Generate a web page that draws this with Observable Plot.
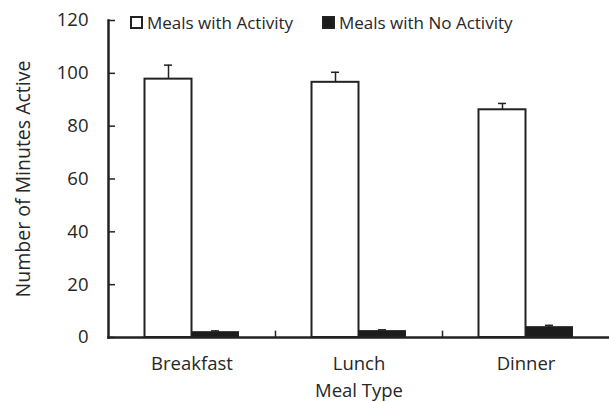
<!DOCTYPE html>
<html><head><meta charset="utf-8">
<script src="https://cdn.jsdelivr.net/npm/d3@7"></script>
<script src="https://cdn.jsdelivr.net/npm/@observablehq/plot@0.6"></script>
<style>
body{margin:0;background:#fff;}
#wrap{position:relative;width:609px;height:402px;font-family:"Open Sans",sans-serif;color:#262626;}
.leg{position:absolute;top:11px;font-size:17px;display:flex;align-items:center;white-space:nowrap;}
.sw{display:inline-block;width:9px;height:9px;border:2px solid #222;margin-right:4px;}
</style></head>
<body><div id="wrap"></div>
<script>
const meals = ["Breakfast", "Lunch", "Dinner"];
const series = ["Meals with Activity", "Meals with No Activity"];
const withActivity = [97.8, 96.6, 86.2];
const withActivityErr = [5.3, 3.8, 2.4];
const noActivity = [2.0, 2.4, 3.9];
const noActivityErr = [0.5, 0.5, 0.7];
const yTicks = [0, 20, 40, 60, 80, 100, 120];

const rowsA = meals.map((m, i) => ({meal: m, v: withActivity[i], top: withActivity[i] + withActivityErr[i]}));
const rowsB = meals.map((m, i) => ({meal: m, v: noActivity[i], top: noActivity[i] + noActivityErr[i]}));

const W = 609, H = 402, mL = 108, mR = 0, mT = 20, mB = 65;
const bw = (W - mL - mR) / meals.length;   // band width
const barW = 47, half = bw / 2;
const capW = 8;
const ink = "#222";
const txt = "#262626";

const chart = Plot.plot({
  width: W, height: H,
  marginLeft: mL, marginRight: mR, marginTop: mT, marginBottom: mB,
  style: {fontFamily: "Open Sans, sans-serif", color: txt, background: "#fff"},
  x: {domain: meals, padding: 0},
  y: {domain: [0, 120]},
  marks: [
    Plot.barY(rowsA, {x: "meal", y: "v", fill: "white", stroke: ink, strokeWidth: 2,
      insetLeft: half - barW, insetRight: half}),
    Plot.barY(rowsB, {x: "meal", y: "v", fill: "#1c1c1c", stroke: ink, strokeWidth: 1,
      insetLeft: half, insetRight: half - barW}),
    Plot.ruleX(rowsA, {x: "meal", y1: "v", y2: "top", dx: -barW / 2, stroke: ink, strokeWidth: 1.5}),
    Plot.ruleX(rowsB, {x: "meal", y1: "v", y2: "top", dx: barW / 2, stroke: ink, strokeWidth: 1.5}),
    Plot.tickY(rowsA, {x: "meal", y: "top", stroke: ink, strokeWidth: 1.5,
      insetLeft: half - barW / 2 - capW / 2, insetRight: half + barW / 2 - capW / 2}),
    Plot.tickY(rowsB, {x: "meal", y: "top", stroke: ink, strokeWidth: 1.5,
      insetLeft: half + barW / 2 - capW / 2, insetRight: half - barW / 2 - capW / 2}),
    // inward y ticks
    Plot.tickY(yTicks, {y: d => d, stroke: ink, strokeWidth: 1.5, insetRight: (W - mL - mR) - 7}),
    // category separator ticks
    Plot.ruleX(meals.slice(1), {x: d => d, y1: 0, y2: 2.4, dx: -half, stroke: ink, strokeWidth: 1.5}),
    Plot.axisY({ticks: yTicks, tickSize: 0, tickPadding: 20, fontSize: 18.5, fill: txt, label: null}),
    Plot.axisY({ticks: [], tickSize: 0, fontSize: 19.5, fill: txt,
      label: "Number of Minutes Active", labelAnchor: "center", labelArrow: "none", labelOffset: 92}),
    Plot.axisX({tickSize: 0, tickPadding: 19.5, fontSize: 18.5, fill: txt, label: null}),
    Plot.axisX({ticks: [], tickSize: 0, fontSize: 18.5, fill: txt,
      label: "Meal Type", labelAnchor: "center", labelArrow: "none", labelOffset: 59.5}),
    Plot.frame({anchor: "left", stroke: ink, strokeWidth: 2.5}),
    Plot.frame({anchor: "bottom", stroke: ink, strokeWidth: 2.5})
  ]
});
const wrap = document.getElementById("wrap");
wrap.appendChild(chart);
const legPos = [130, 322];
const legFill = ["white", "#1c1c1c"];
series.forEach((s, i) => {
  const d = document.createElement("div");
  d.className = "leg";
  d.style.left = legPos[i] + "px";
  const sw = document.createElement("span");
  sw.className = "sw";
  sw.style.background = legFill[i];
  d.appendChild(sw);
  d.appendChild(document.createTextNode(s));
  wrap.appendChild(d);
});
</script></body></html>
